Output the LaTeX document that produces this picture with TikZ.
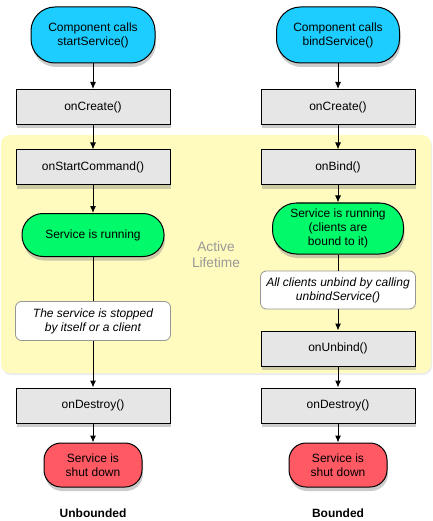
\documentclass[tikz,border=0pt]{standalone}
\usepackage{fontspec}
\setmainfont{Liberation Sans}
\usetikzlibrary{arrows.meta,shadows}

\definecolor{startBlue}{RGB}{30,205,255}
\definecolor{runGreen}{RGB}{0,250,105}
\definecolor{stopRed}{RGB}{255,90,100}
\definecolor{stepGray}{RGB}{230,230,230}
\definecolor{activeBg}{RGB}{255,250,190}
\definecolor{noteEdge}{RGB}{150,150,150}

\begin{document}
\begin{tikzpicture}[x=1pt, y=-1pt, >={Latex[length=7pt,width=6pt]},
  every node/.style={font=\fontsize{12}{14}\selectfont, align=center, inner sep=0pt},
  shade/.style={drop shadow={shadow xshift=1pt, shadow yshift=-4pt, opacity=0.4}},
  startnode/.style={draw, line width=1pt, fill=startBlue, rounded corners=24pt, shade},
  stepbox/.style={draw, line width=1pt, fill=stepGray, minimum width=154pt, minimum height=35pt, shade},
  runnode/.style={draw, line width=1pt, fill=runGreen, rounded corners=21pt, shade},
  endnode/.style={draw, line width=1pt, fill=stopRed, rounded corners=17pt, minimum width=98pt, minimum height=44pt, shade},
  notebox/.style={draw=noteEdge, line width=0.8pt, fill=white, rounded corners=6pt, minimum width=155pt, font=\fontsize{12}{14}\selectfont\itshape},
  link/.style={line width=1pt}]
\useasboundingbox (0,0) rectangle (432,521);

% active lifetime area
\fill[activeBg, rounded corners=9pt, drop shadow={shadow xshift=1pt, shadow yshift=-2pt, opacity=0.15}] (1,135) rectangle (431,373);
\node[text=black!40, font=\fontsize{13.7}{16}\selectfont] (active) at (216,255) {Active\\Lifetime};

% unbounded
\node[startnode, minimum width=124pt, minimum height=56pt] (start1) at (93,35) {Component calls\\startService()};
\node[stepbox] (create1) at (93,107) {onCreate()};
\node[stepbox] (cmd) at (93,167.5) {onStartCommand()};
\node[runnode, minimum width=142pt, minimum height=43pt] (run1) at (93,235) {Service is running};
\node[notebox, minimum height=39pt] (stop1) at (93,321) {The service is stopped\\by itself or a client};
\node[stepbox] (destroy1) at (93,405.5) {onDestroy()};
\node[endnode] (down1) at (93,465) {Service is\\shut down};
\node[font=\fontsize{12}{14}\selectfont\bfseries] (title1) at (93,513) {Unbounded};

% bounded
\node[startnode, minimum width=123pt, minimum height=56pt] (start2) at (338,35) {Component calls\\bindService()};
\node[stepbox] (create2) at (338,107) {onCreate()};
\node[stepbox] (bind) at (338,167.5) {onBind()};
\node[runnode, minimum width=131pt, minimum height=51pt, rounded corners=24pt] (run2) at (338,228.5) {Service is running\\(clients are\\bound to it)};
\node[notebox, minimum height=38pt] (unbindnote) at (338,290) {All clients unbind by calling\\unbindService()};
\node[stepbox] (unbind) at (338,348.5) {onUnbind()};
\node[stepbox] (destroy2) at (338,405.5) {onDestroy()};
\node[endnode] (down2) at (338,465) {Service is\\shut down};
\node[font=\fontsize{12}{14}\selectfont\bfseries] (title2) at (338,513) {Bounded};

\draw[link, ->] (start1) -- (create1);
\draw[link, ->] (create1) -- (cmd);
\draw[link, ->] (cmd) -- (run1);
\draw[link] (run1) -- (stop1);
\draw[link, ->] (stop1) -- (destroy1);
\draw[link, ->] (destroy1) -- (down1);

\draw[link, ->] (start2) -- (create2);
\draw[link, ->] (create2) -- (bind);
\draw[link, ->] (bind) -- (run2);
\draw[link] (run2) -- (unbindnote);
\draw[link, ->] (unbindnote) -- (unbind);
\draw[link, ->] (unbind) -- (destroy2);
\draw[link, ->] (destroy2) -- (down2);
\end{tikzpicture}
\end{document}
